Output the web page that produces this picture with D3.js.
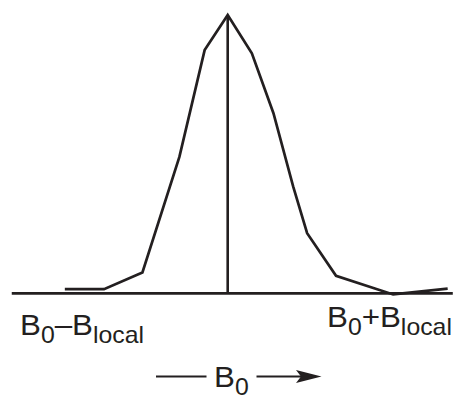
<!DOCTYPE html>
<html>
<head>
<meta charset="utf-8">
<script src="https://cdn.jsdelivr.net/npm/d3@7"></script>
<style>
  html, body { margin: 0; padding: 0; background: #fff; }
  svg { display: block; }
  text { font-family: "Liberation Sans", Arial, Helvetica, sans-serif; fill: #231f20; }
</style>
</head>
<body>
<svg id="chart" width="454" height="399"></svg>
<script>
// Field offset from B0 (arbitrary units) and relative line intensity
const fieldOffset = [-4.45, -3.38, -2.33, -1.32, -0.63, 0, 0.66, 1.25, 1.79, 2.17, 2.96, 4.52, 6.01];
const intensity   = [0.015, 0.015, 0.075, 0.49, 0.874, 1.0, 0.862, 0.647, 0.383, 0.216, 0.063, -0.004, 0.017];
const fieldExtent = [-5.9, 6.15];

const ink = "#231f20";
const svg = d3.select("#chart");

const x = d3.scaleLinear().domain([-1, 1]).range([227.7 - 36.6, 227.7 + 36.6]);
const y = d3.scaleLinear().domain([0, 1]).range([293.3, 15]);

const points = fieldOffset.map((f, i) => ({ f, v: intensity[i] }));

// baseline
svg.append("line")
  .attr("x1", x(fieldExtent[0])).attr("x2", x(fieldExtent[1]))
  .attr("y1", y(0)).attr("y2", y(0))
  .attr("stroke", ink).attr("stroke-width", 2.8);

// centre marker at B0
svg.append("line")
  .attr("x1", x(0)).attr("x2", x(0))
  .attr("y1", y(0)).attr("y2", y(1))
  .attr("stroke", ink).attr("stroke-width", 2.6);

// line shape
svg.append("path")
  .datum(points)
  .attr("fill", "none")
  .attr("stroke", ink)
  .attr("stroke-width", 2.7)
  .attr("stroke-linejoin", "miter")
  .attr("d", d3.line().x(d => x(d.f)).y(d => y(d.v)));

// label with subscripts
function label(tx, ty, parts) {
  const t = svg.append("text")
    .attr("transform", `translate(${tx},${ty}) scale(1.08,1)`)
    .attr("font-size", 29);
  parts.forEach(p => {
    const s = t.append("tspan").text(p.t);
    if (p.sub) s.attr("font-size", 23).attr("dy", 8);
    else if (p.up) s.attr("dy", -8);
  });
}

label(20, 335, [{ t: "B" }, { t: "0", sub: true }, { t: "–", up: true }, { t: "B" }, { t: "local", sub: true }]);
label(327, 327, [{ t: "B" }, { t: "0", sub: true }, { t: "+", up: true }, { t: "B" }, { t: "local", sub: true }]);

// field direction
svg.append("line")
  .attr("x1", 156).attr("x2", 206.5).attr("y1", 376.5).attr("y2", 376.5)
  .attr("stroke", ink).attr("stroke-width", 2);

svg.append("line")
  .attr("x1", 256.5).attr("x2", 310).attr("y1", 376.5).attr("y2", 376.5)
  .attr("stroke", ink).attr("stroke-width", 2);

svg.append("path")
  .attr("d", "M321.5,376.5 L296,370 L301,376.5 L296,383 Z")
  .attr("fill", ink);

label(214, 387, [{ t: "B" }, { t: "0", sub: true }]);
</script>
</body>
</html>
